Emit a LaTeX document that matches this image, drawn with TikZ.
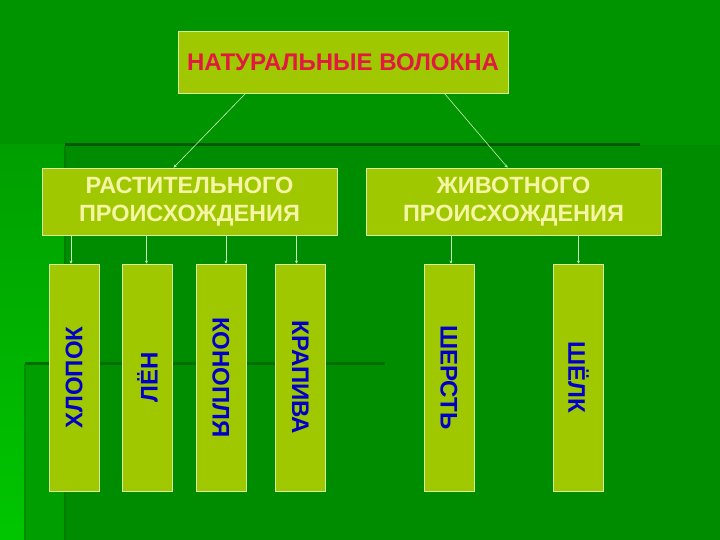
\documentclass[tikz,border=0pt]{standalone}
\usepackage{fontspec}
\setmainfont{Liberation Sans}
\usetikzlibrary{arrows.meta}
\definecolor{bggreen}{RGB}{0,140,0}
\definecolor{bgtop}{RGB}{0,148,0}
\definecolor{bgleft}{RGB}{0,198,0}
\definecolor{bgmid}{RGB}{0,158,0}
\definecolor{bgline}{RGB}{0,88,0}
\definecolor{boxfill}{RGB}{160,200,0}
\definecolor{boxline}{RGB}{215,240,160}
\definecolor{titlered}{RGB}{225,25,65}
\definecolor{palefont}{RGB}{245,245,165}
\definecolor{barblue}{RGB}{0,0,200}
\definecolor{arrline}{RGB}{200,240,185}
\begin{document}
\begin{tikzpicture}[x=1pt,y=-1pt,
    box/.style={draw=boxline,line width=0.8pt,fill=boxfill,inner sep=0pt,font=\bfseries},
    bar/.style={box,minimum width=50pt,minimum height=227pt,text=barblue,font=\fontsize{24}{28}\bfseries\selectfont},
    arr/.style={draw=arrline,line width=0.6pt,-{Stealth[length=3pt,width=3pt]}}]
		% background
		\useasboundingbox (0,0) rectangle (720,540);
		\fill[bgtop] (0,0) rectangle (720,540);
		\fill[bggreen] (65,145) rectangle (720,540);
		\shade[top color=bgmid,bottom color=bgleft] (0,145) rectangle (65,540);
		\fill[bgmid] (25,363) rectangle (65,540);
		\draw[bgline,line width=3pt] (65,145) -- (640,145);
		\draw[bgline!30!bggreen,line width=2pt] (65,540) -- (65,146);
		\draw[bgline!60!bggreen,line width=3pt] (25,363) -- (385,363);
		\draw[bgline!25!bgmid,line width=2pt] (25,540) -- (25,364);
		
		\node[box,minimum width=330pt,minimum height=62pt,text=titlered,font=\fontsize{24}{28}\bfseries\selectfont] (nat) at (343,62) {НАТУРАЛЬНЫЕ ВОЛОКНА};
		\node[box,minimum width=295pt,minimum height=67pt,text=palefont,align=center,font=\fontsize{23.5}{28}\bfseries\selectfont] (plant) at (189.5,201.5) {РАСТИТЕЛЬНОГО\\ПРОИСХОЖДЕНИЯ};
		\node[box,minimum width=295pt,minimum height=67pt,text=palefont,align=center,font=\fontsize{23.5}{28}\bfseries\selectfont] (anim) at (513.5,201.5) {ЖИВОТНОГО\\ПРОИСХОЖДЕНИЯ};
		
		\node[bar] (b1) at (74,377.5) {\rotatebox{90}{ХЛОПОК}};
		\node[bar] (b2) at (147.5,377.5) {\rotatebox{90}{ЛЁН}};
		\node[bar] (b3) at (221,377.5) {\rotatebox{-90}{КОНОПЛЯ}};
		\node[bar] (b4) at (300.5,377.5) {\rotatebox{-90}{КРАПИВА}};
		\node[bar] (b5) at (449,377.5) {\rotatebox{-90}{ШЕРСТЬ}};
		\node[bar] (b6) at (578.5,377.5) {\rotatebox{-90}{ШЁЛК}};
		
		\path[arr] ([xshift=68pt]nat.south west) -- ([xshift=132pt]plant.north west);
		\path[arr] ([xshift=-64pt]nat.south east) -- ([xshift=142pt]anim.north west);
		\foreach \b/\s in {b1/-3,b2/-1,b3/5,b4/-4}
		  \path[arr] ([xshift=\s pt]plant.south -| \b.north) -- ([xshift=\s pt]\b.north);
		\foreach \b/\s in {b5/2,b6/0}
		  \path[arr] ([xshift=\s pt]anim.south -| \b.north) -- ([xshift=\s pt]\b.north);
\end{tikzpicture}
\end{document}
